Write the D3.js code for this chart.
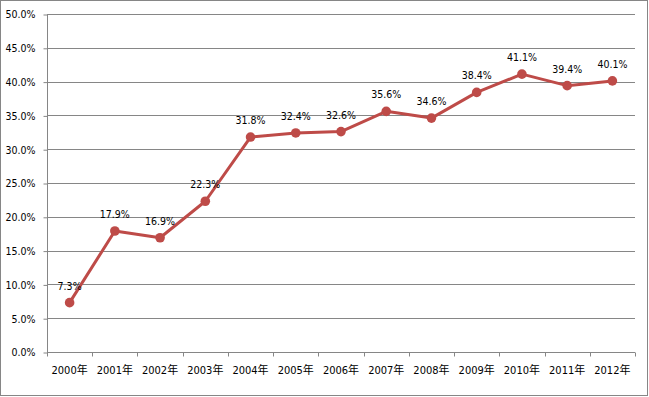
<!DOCTYPE html>
<html>
<head>
<meta charset="utf-8">
<script src="https://cdn.jsdelivr.net/npm/d3@7"></script>
<style>
  body { margin: 0; background: #fff; }
  text { font-family: "DejaVu Sans Condensed", "DejaVu Sans", "Noto Sans CJK SC", sans-serif; fill: #000; }
</style>
</head>
<body>
<svg id="chart" width="649" height="397"></svg>
<script>
// Chart data
const years = ["2000年", "2001年", "2002年", "2003年", "2004年", "2005年", "2006年",
               "2007年", "2008年", "2009年", "2010年", "2011年", "2012年"];
const rates = [7.3, 17.9, 16.9, 22.3, 31.8, 32.4, 32.6, 35.6, 34.6, 38.4, 41.1, 39.4, 40.1];
const yTicks = [0, 5, 10, 15, 20, 25, 30, 35, 40, 45, 50];

const svg = d3.select("#chart");
const gridColor = "#868686";
const lineColor = "#be4b48";

// Outer chart border
svg.append("rect")
    .attr("x", 0.5).attr("y", 0.5)
    .attr("width", 647).attr("height", 395)
    .attr("fill", "none")
    .attr("stroke", gridColor);

// Plot area bounds
const plotLeft = 47, plotRight = 635, plotTop = 14, plotBottom = 352;

const x = d3.scaleBand().domain(years).range([plotLeft, plotRight]);
const y = d3.scaleLinear().domain([0, 50]).range([plotBottom, plotTop]);

// Horizontal gridlines
svg.append("g")
    .selectAll("line")
    .data(yTicks)
    .join("line")
    .attr("x1", plotLeft).attr("x2", plotRight)
    .attr("y1", d => Math.round(y(d)) + 0.5)
    .attr("y2", d => Math.round(y(d)) + 0.5)
    .attr("stroke", gridColor);

// Y axis
const yAxis = svg.append("g")
    .attr("transform", `translate(${plotLeft + 0.5},0.5)`)
    .call(d3.axisLeft(y).tickValues(yTicks).tickSize(4).tickPadding(8)
        .tickFormat(d => d.toFixed(1) + "%"));
yAxis.selectAll("line, path").attr("stroke", gridColor);
yAxis.select(".domain").attr("d", `M0,${Math.round(y(50))}V${Math.round(y(0))}`);
yAxis.selectAll("text").attr("font-size", 10.5).attr("fill", "#000");
yAxis.attr("font-family", null).attr("font-size", null);

// X axis: ticks at category boundaries
const xAxis = svg.append("g")
    .attr("transform", `translate(0,${Math.round(plotBottom) + 0.5})`);
xAxis.append("line")
    .attr("x1", plotLeft).attr("x2", plotRight)
    .attr("stroke", gridColor);
xAxis.selectAll(".tick")
    .data(d3.range(years.length + 1))
    .join("line")
    .attr("class", "tick")
    .attr("x1", i => Math.round(plotLeft + i * x.step()) + 0.5)
    .attr("x2", i => Math.round(plotLeft + i * x.step()) + 0.5)
    .attr("y1", 0).attr("y2", 4)
    .attr("stroke", gridColor);
xAxis.selectAll(".label")
    .data(years)
    .join("text")
    .attr("class", "label")
    .attr("x", d => x(d) + x.bandwidth() / 2)
    .attr("y", 21)
    .attr("text-anchor", "middle")
    .attr("font-size", 11)
    .text(d => d);

// Line series
const cx = (d, i) => x(years[i]) + x.bandwidth() / 2;
svg.append("path")
    .datum(rates)
    .attr("fill", "none")
    .attr("stroke", lineColor)
    .attr("stroke-width", 3)
    .attr("stroke-linejoin", "round")
    .attr("d", d3.line().x(cx).y(d => y(d)));

svg.append("g")
    .selectAll("circle")
    .data(rates)
    .join("circle")
    .attr("cx", cx)
    .attr("cy", d => y(d))
    .attr("r", 4.8)
    .attr("fill", lineColor);

// Data labels
svg.append("g")
    .selectAll("text")
    .data(rates)
    .join("text")
    .attr("x", cx)
    .attr("y", d => y(d) - 13)
    .attr("text-anchor", "middle")
    .attr("font-size", 10.5)
    .text(d => d.toFixed(1) + "%");
</script>
</body>
</html>
